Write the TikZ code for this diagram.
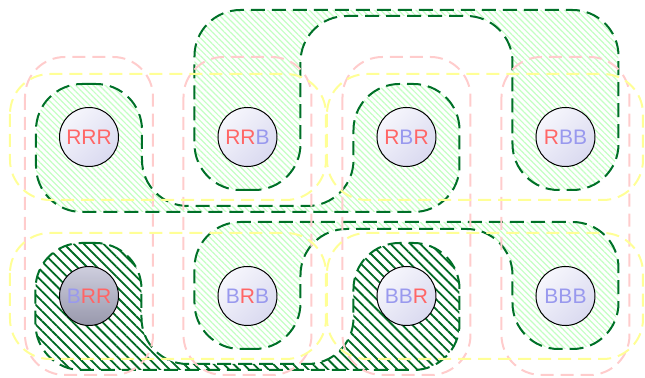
\documentclass[tikz,border=0pt]{standalone}
\usepackage{fontspec}
\setmainfont{Liberation Sans}
\usepackage{tikz}
\usetikzlibrary{patterns.meta}
\definecolor{kred}{RGB}{255,102,102}
\definecolor{kblue}{RGB}{153,153,238}
\definecolor{kpink}{RGB}{255,204,204}
\definecolor{kyellow}{RGB}{255,255,150}
\definecolor{kgreen}{RGB}{0,112,40}
\definecolor{khatch}{RGB}{195,255,195}
\definecolor{kdark}{RGB}{0,105,35}
\definecolor{kballtop}{RGB}{246,246,252}
\definecolor{kballbot}{RGB}{218,218,240}
\definecolor{kgreytop}{RGB}{206,206,222}
\definecolor{kgreybot}{RGB}{152,152,172}
\newcommand{\Rl}{\textcolor{kred}{R}}
\newcommand{\Bl}{\textcolor{kblue}{B}}
\tikzset{
  bitnode/.style={circle, draw=black, line width=0.5pt, minimum size=29.5pt, inner sep=0pt,
    font=\fontsize{10.5}{12}\selectfont, top color=kballtop, bottom color=kballbot, shading angle=45},
  picked/.style={top color=kgreytop, bottom color=kgreybot},
  hull/.style={draw=kgreen, line width=1pt, dash pattern=on 7pt off 3.5pt, rounded corners=23pt},
  lighthull/.style={hull, pattern={Lines[angle=-45,distance=2.1pt,line width=0.6pt]}, pattern color=khatch},
  darkhull/.style={hull, pattern={Lines[angle=-45,distance=3.5pt,line width=0.9pt]}, pattern color=kdark},
  colgroup/.style={draw=kpink, line width=1pt, dash pattern=on 6.5pt off 3.5pt, rounded corners=20pt},
  rowgroup/.style={draw=kyellow, line width=1pt, dash pattern=on 6.5pt off 3.5pt, rounded corners=20pt}
}

\begin{document}
\begin{tikzpicture}[x=0.5pt, y=-0.5pt]
  \useasboundingbox (0,0) rectangle (645,378);

  % middle letter groups (paths end where they start)
  \draw[lighthull] (89,84) -- (142,84) -- (142,206) -- (353.5,206) -- (353.5,84) -- (459.5,84) -- (459.5,212) -- (36,212) -- (36,84) -- (89,84);
  \draw[lighthull] (247.5,190) -- (300.5,190) -- (300.5,16) -- (512.5,16) -- (512.5,190) -- (618.5,190) -- (618.5,10) -- (194.5,10) -- (194.5,190) -- (247.5,190);
  \draw[lighthull] (247.5,349) -- (300.5,349) -- (300.5,229) -- (512.5,229) -- (512.5,349) -- (618.5,349) -- (618.5,222) -- (194.5,222) -- (194.5,349) -- (247.5,349);
  \draw[darkhull] (88.5,243) -- (141.5,243) -- (141.5,364) -- (353.5,364) -- (353.5,243) -- (459.5,243) -- (459.5,370) -- (35.5,370) -- (35.5,243) -- (88.5,243);

  % first letter groups
  \draw[colgroup] (25,57) rectangle (153,375);
  \draw[colgroup] (183.5,57) rectangle (311.5,375);
  \draw[colgroup] (342.5,57) rectangle (470.5,375);
  \draw[colgroup] (501.5,57) rectangle (629.5,375);

  % last letter groups
  \draw[rowgroup] (10,74) rectangle (326,200);
  \draw[rowgroup] (327,74) rectangle (643,200);
  \draw[rowgroup] (10,233) rectangle (326,359);
  \draw[rowgroup] (327,233) rectangle (643,359);

  \node[bitnode] (rrr) at (89,137) {\Rl\Rl\Rl};
  \node[bitnode] (rrb) at (247.5,137) {\Rl\Rl\Bl};
  \node[bitnode] (rbr) at (406.5,137) {\Rl\Bl\Rl};
  \node[bitnode] (rbb) at (565.5,137) {\Rl\Bl\Bl};
  \node[bitnode, picked] (brr) at (89,296) {\Bl\Rl\Rl};
  \node[bitnode] (brb) at (247.5,296) {\Bl\Rl\Bl};
  \node[bitnode] (bbr) at (406.5,296) {\Bl\Bl\Rl};
  \node[bitnode] (bbb) at (565.5,296) {\Bl\Bl\Bl};
\end{tikzpicture}
\end{document}
